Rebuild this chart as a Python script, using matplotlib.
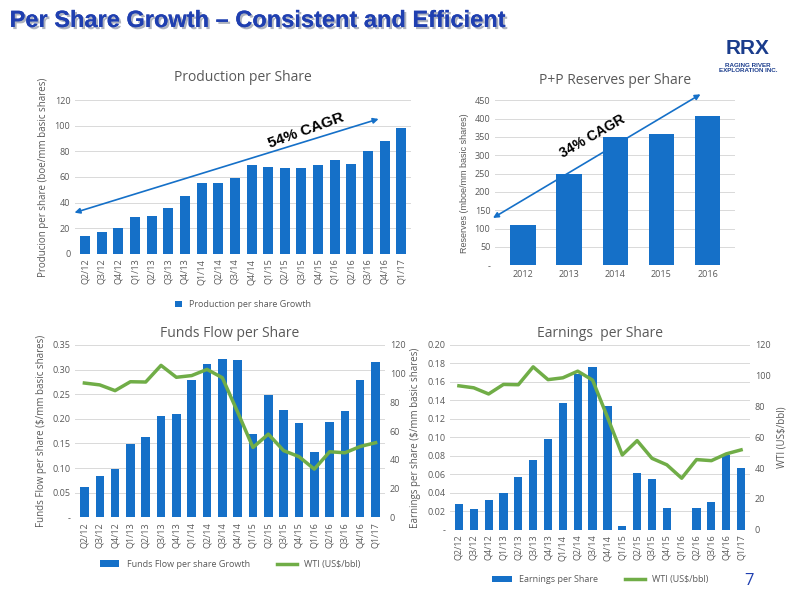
import matplotlib
matplotlib.use("Agg")
import matplotlib.pyplot as plt
import matplotlib.patheffects as pe
import numpy as np

quarters = ["Q2/12","Q3/12","Q4/12","Q1/13","Q2/13","Q3/13","Q4/13","Q1/14","Q2/14","Q3/14",
            "Q4/14","Q1/15","Q2/15","Q3/15","Q4/15","Q1/16","Q2/16","Q3/16","Q4/16","Q1/17"]
production = [14,17,20,29,29.5,36,45.5,55,55.5,59.5,69,67.5,67,67,69,73,70.5,80.5,88,98]
years = ["2012","2013","2014","2015","2016"]
reserves = [110,250,350,358,407]
funds_flow = [.062,.084,.097,.149,.163,.205,.210,.278,.312,.321,.320,.170,.249,.217,.191,.132,.194,.215,.279,.315]
wti = [93.5,92.2,88.2,94.4,94.2,105.8,97.5,98.7,103.0,97.2,73.2,48.6,57.9,46.4,42.2,33.5,45.6,44.9,49.3,51.9]
eps = [.028,.022,.032,.040,.057,.075,.098,.137,.169,.176,.134,.004,.062,.055,.024,-.001,.024,.030,.081,.067]

BLUE = "#1570c8"
GREEN = "#70ad47"
GRAY = "#595959"
plt.rcParams['font.family'] = ['Open Sans', 'DejaVu Sans']
plt.rcParams['font.size'] = 6.5

fig = plt.figure(figsize=(8, 6), dpi=100)
fig.text(0.012, 0.955, "Per Share Growth – Consistent and Efficient", color="#1f3fb0",
         fontsize=17, fontweight="bold", family="Liberation Sans",
         path_effects=[pe.withSimplePatchShadow(offset=(1.5, -1.5), shadow_rgbFace="#9aa0b0", alpha=0.8), pe.Normal()])
fig.text(0.935, 0.91, "RRX", color="#1a3c8c", fontsize=15, fontweight="bold", ha="center", family="Liberation Sans")
fig.text(0.935, 0.895, "RAGING RIVER\nEXPLORATION INC.", color="#1a3c8c", fontsize=4.5, fontweight="bold",
         ha="center", va="top", linespacing=1.0, family="Liberation Sans")
fig.text(0.93, 0.025, "7", color="#1f3fb0", fontsize=12)

def style(ax):
    for s in ax.spines.values():
        s.set_visible(False)
    ax.tick_params(length=0, colors=GRAY)
    ax.grid(axis="y", color="#d9d9d9", linewidth=0.7)
    ax.set_axisbelow(True)

x = np.arange(len(quarters))

# Production
ax1 = fig.add_axes([0.094, 0.577, 0.42, 0.256])
style(ax1)
ax1.bar(x, production, width=0.6, color=BLUE, label="Production per share Growth")
ax1.set_ylim(0, 120); ax1.set_yticks(range(0, 121, 20))
ax1.set_xlim(-0.6, len(x) - 0.4)
ax1.set_xticks(x); ax1.set_xticklabels(quarters, rotation=90)
ax1.set_ylabel("Producion per share (boe/mm basic shares)", color=GRAY, fontsize=7)
ax1.set_title("Production per Share", color=GRAY, fontsize=10, pad=14)
ax1.legend(loc="upper center", bbox_to_anchor=(0.5, -0.25), frameon=False, handlelength=0.7, fontsize=6.5, labelcolor=GRAY)
ax1.annotate("", xy=(-0.8, 31.5), xytext=(17.8, 106), arrowprops=dict(arrowstyle="<|-|>", color=BLUE, lw=1.2, mutation_scale=8), annotation_clip=False)
ax1.text(13.3, 96, "54% CAGR", rotation=20, fontsize=11, fontweight="bold", family="Liberation Sans", ha="center", va="center")

# Reserves
ax2 = fig.add_axes([0.619, 0.558, 0.30, 0.275])
style(ax2)
ax2.bar(np.arange(5), reserves, width=0.55, color=BLUE)
ax2.set_ylim(0, 450); ax2.set_yticks(range(0, 451, 50))
ax2.set_yticklabels(["-"] + [str(v) for v in range(50, 451, 50)])
ax2.set_xticks(np.arange(5)); ax2.set_xticklabels(years)
ax2.set_xlim(-0.6, 4.6)
ax2.set_ylabel("Reserves (mboe/mm basic shares)", color=GRAY, fontsize=6.5, family="Liberation Sans")
ax2.set_title("P+P Reserves per Share", color=GRAY, fontsize=10, pad=12)
ax2.annotate("", xy=(-0.7, 125), xytext=(3.9, 470), arrowprops=dict(arrowstyle="<|-|>", color=BLUE, lw=1.2, mutation_scale=8), annotation_clip=False)
ax2.text(1.5, 350, "34% CAGR", rotation=30, fontsize=10, fontweight="bold", family="Liberation Sans", ha="center", va="center")

def combo(rect, vals, ylim, yticks, yticklabels, ylabel, title, barlabel, right_label):
    ax = fig.add_axes(rect)
    style(ax)
    ax.bar(x, vals, width=0.55, color=BLUE, label=barlabel)
    ax.set_ylim(*ylim); ax.set_yticks(yticks); ax.set_yticklabels(yticklabels)
    ax.set_xlim(-0.6, len(x) - 0.4)
    ax.set_xticks(x); ax.set_xticklabels(quarters, rotation=90)
    ax.set_ylabel(ylabel, color=GRAY, fontsize=7)
    ax.set_title(title, color=GRAY, fontsize=10, pad=6)
    axr = ax.twinx()
    for s in axr.spines.values():
        s.set_visible(False)
    axr.tick_params(length=0, colors=GRAY)
    axr.plot(x, wti, color=GREEN, lw=2.5, label="WTI (US$/bbl)")
    axr.set_ylim(0, 120); axr.set_yticks(range(0, 121, 20))
    if right_label:
        axr.set_ylabel("WTI (US$/bbl)", color=GRAY, fontsize=7)
    h1, l1 = ax.get_legend_handles_labels()
    h2, l2 = axr.get_legend_handles_labels()
    ax.legend(h1 + h2, l1 + l2, loc="upper center", bbox_to_anchor=(0.5, -0.2), ncol=2,
              frameon=False, handlelength=2.2, fontsize=6.5, labelcolor=GRAY, columnspacing=3)

ff_ticks = np.round(np.arange(0, 0.351, 0.05), 2)
combo([0.094, 0.138, 0.387, 0.287], funds_flow, (0, 0.35), ff_ticks,
      ["-"] + [f"{v:.2f}" for v in ff_ticks[1:]],
      "Funds Flow per share ($/mm basic shares)", "Funds Flow per Share",
      "Funds Flow per share Growth", False)
ep_ticks = np.round(np.arange(0, 0.201, 0.02), 2)
combo([0.5625, 0.117, 0.375, 0.308], eps, (0, 0.20), ep_ticks,
      ["-"] + [f"{v:.2f}" for v in ep_ticks[1:]],
      "Earnings per share ($/mm basic shares)", "Earnings  per Share",
      "Earnings per Share", True)

fig.savefig("out.png", dpi=100)
